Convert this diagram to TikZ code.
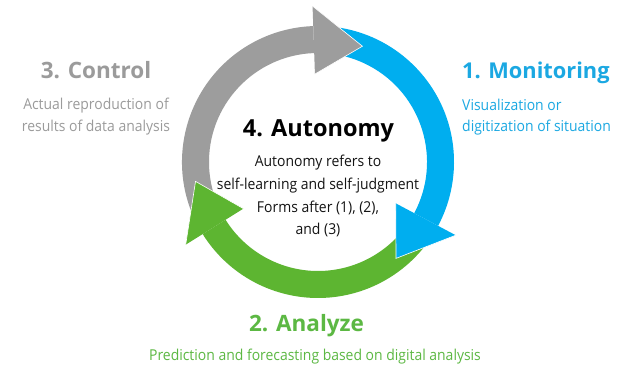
\documentclass[tikz,border=0pt]{standalone}
\usepackage{fontspec}
\setmainfont{Open Sans}
\newfontfamily\bodyfont[FakeStretch=0.93]{Open Sans}
\usetikzlibrary{calc}
\definecolor{cgray}{HTML}{9D9D9D}
\definecolor{cblue}{HTML}{00AEEF}
\definecolor{cgreen}{HTML}{5DB531}
\definecolor{tgray}{HTML}{9B9B9B}
\definecolor{tblue}{HTML}{1BA8E2}
\definecolor{tgreen}{HTML}{5CB843}
\definecolor{tdark}{HTML}{141414}
\begin{document}
\begin{tikzpicture}[x=1pt,y=1pt,
  sidetitle/.style={inner sep=0pt, anchor=base, font=\fontsize{22.5}{27}\selectfont\bfseries},
  centertitle/.style={inner sep=0pt, anchor=base, font=\fontsize{23.5}{28}\selectfont\bfseries, text=black},
  bodytext/.style={inner sep=0pt, anchor=base, font=\bodyfont\fontsize{15}{18}\selectfont},
  headedge/.style={white, line width=0.6pt}]
\useasboundingbox (0,0) rectangle (621,367);
\fill[white] (0,0) rectangle (621,367);
\coordinate (C) at (318,205);
\def\ringband#1#2#3{\fill[#1] ($(C)+(#2:136)$) arc[start angle=#2,end angle=#3,radius=136] -- ($(C)+(#3:109)$) arc[start angle=#3,end angle=#2,radius=109] -- cycle;}
\def\ringhead#1#2#3{%
  \fill[#1] ($(C)+(#2:156)$) -- ($(C)+(#3:124)$) -- ($(C)+(#2:88)$) -- cycle;
  \draw[headedge] ($(C)+(#2:156)$) -- ($(C)+(#3:124)$) -- ($(C)+(#2:88)$);}
% bands
\ringband{cgray}{208}{92}
\ringband{cblue}{88}{-28}
\ringband{cgreen}{-33}{-148}
% heads
\ringhead{cgray}{92}{69}
\ringhead{cblue}{-28}{-51}
\ringhead{cgreen}{-148}{-171}
% 3. Control
\node[sidetitle, text=tgray] (ctrlT) at (96,288) {3. Control};
\node[bodytext, text=tgray] (ctrlA) at (96,257) {Actual reproduction of};
\node[bodytext, text=tgray] (ctrlB) at (96,235) {results of data analysis};
% 1. Monitoring
\node[sidetitle, anchor=base west, text=tblue, font=\fontsize{21.8}{27}\selectfont\bfseries] (monT) at (462,288) {1. Monitoring};
\node[bodytext, anchor=base west, text=tblue] (monA) at (462,256) {Visualization or};
\node[bodytext, anchor=base west, text=tblue] (monB) at (462,235) {digitization of situation};
% 4. Autonomy
\node[centertitle] (autT) at (318.5,230) {4. Autonomy};
\node[bodytext, text=tdark] (autA) at (318,200) {Autonomy refers to};
\node[bodytext, text=tdark] (autB) at (318,177) {self-learning and self-judgment};
\node[bodytext, text=tdark] (autC) at (318,154.5) {Forms after (1), (2),};
\node[bodytext, text=tdark] (autD) at (318,132) {and (3)};
% 2. Analyze
\node[sidetitle, text=tgreen] (anaT) at (306.5,36) {2. Analyze};
\node[bodytext, text=tgreen] (anaA) at (315,7) {Prediction and forecasting based on digital analysis};
\end{tikzpicture}
\end{document}
